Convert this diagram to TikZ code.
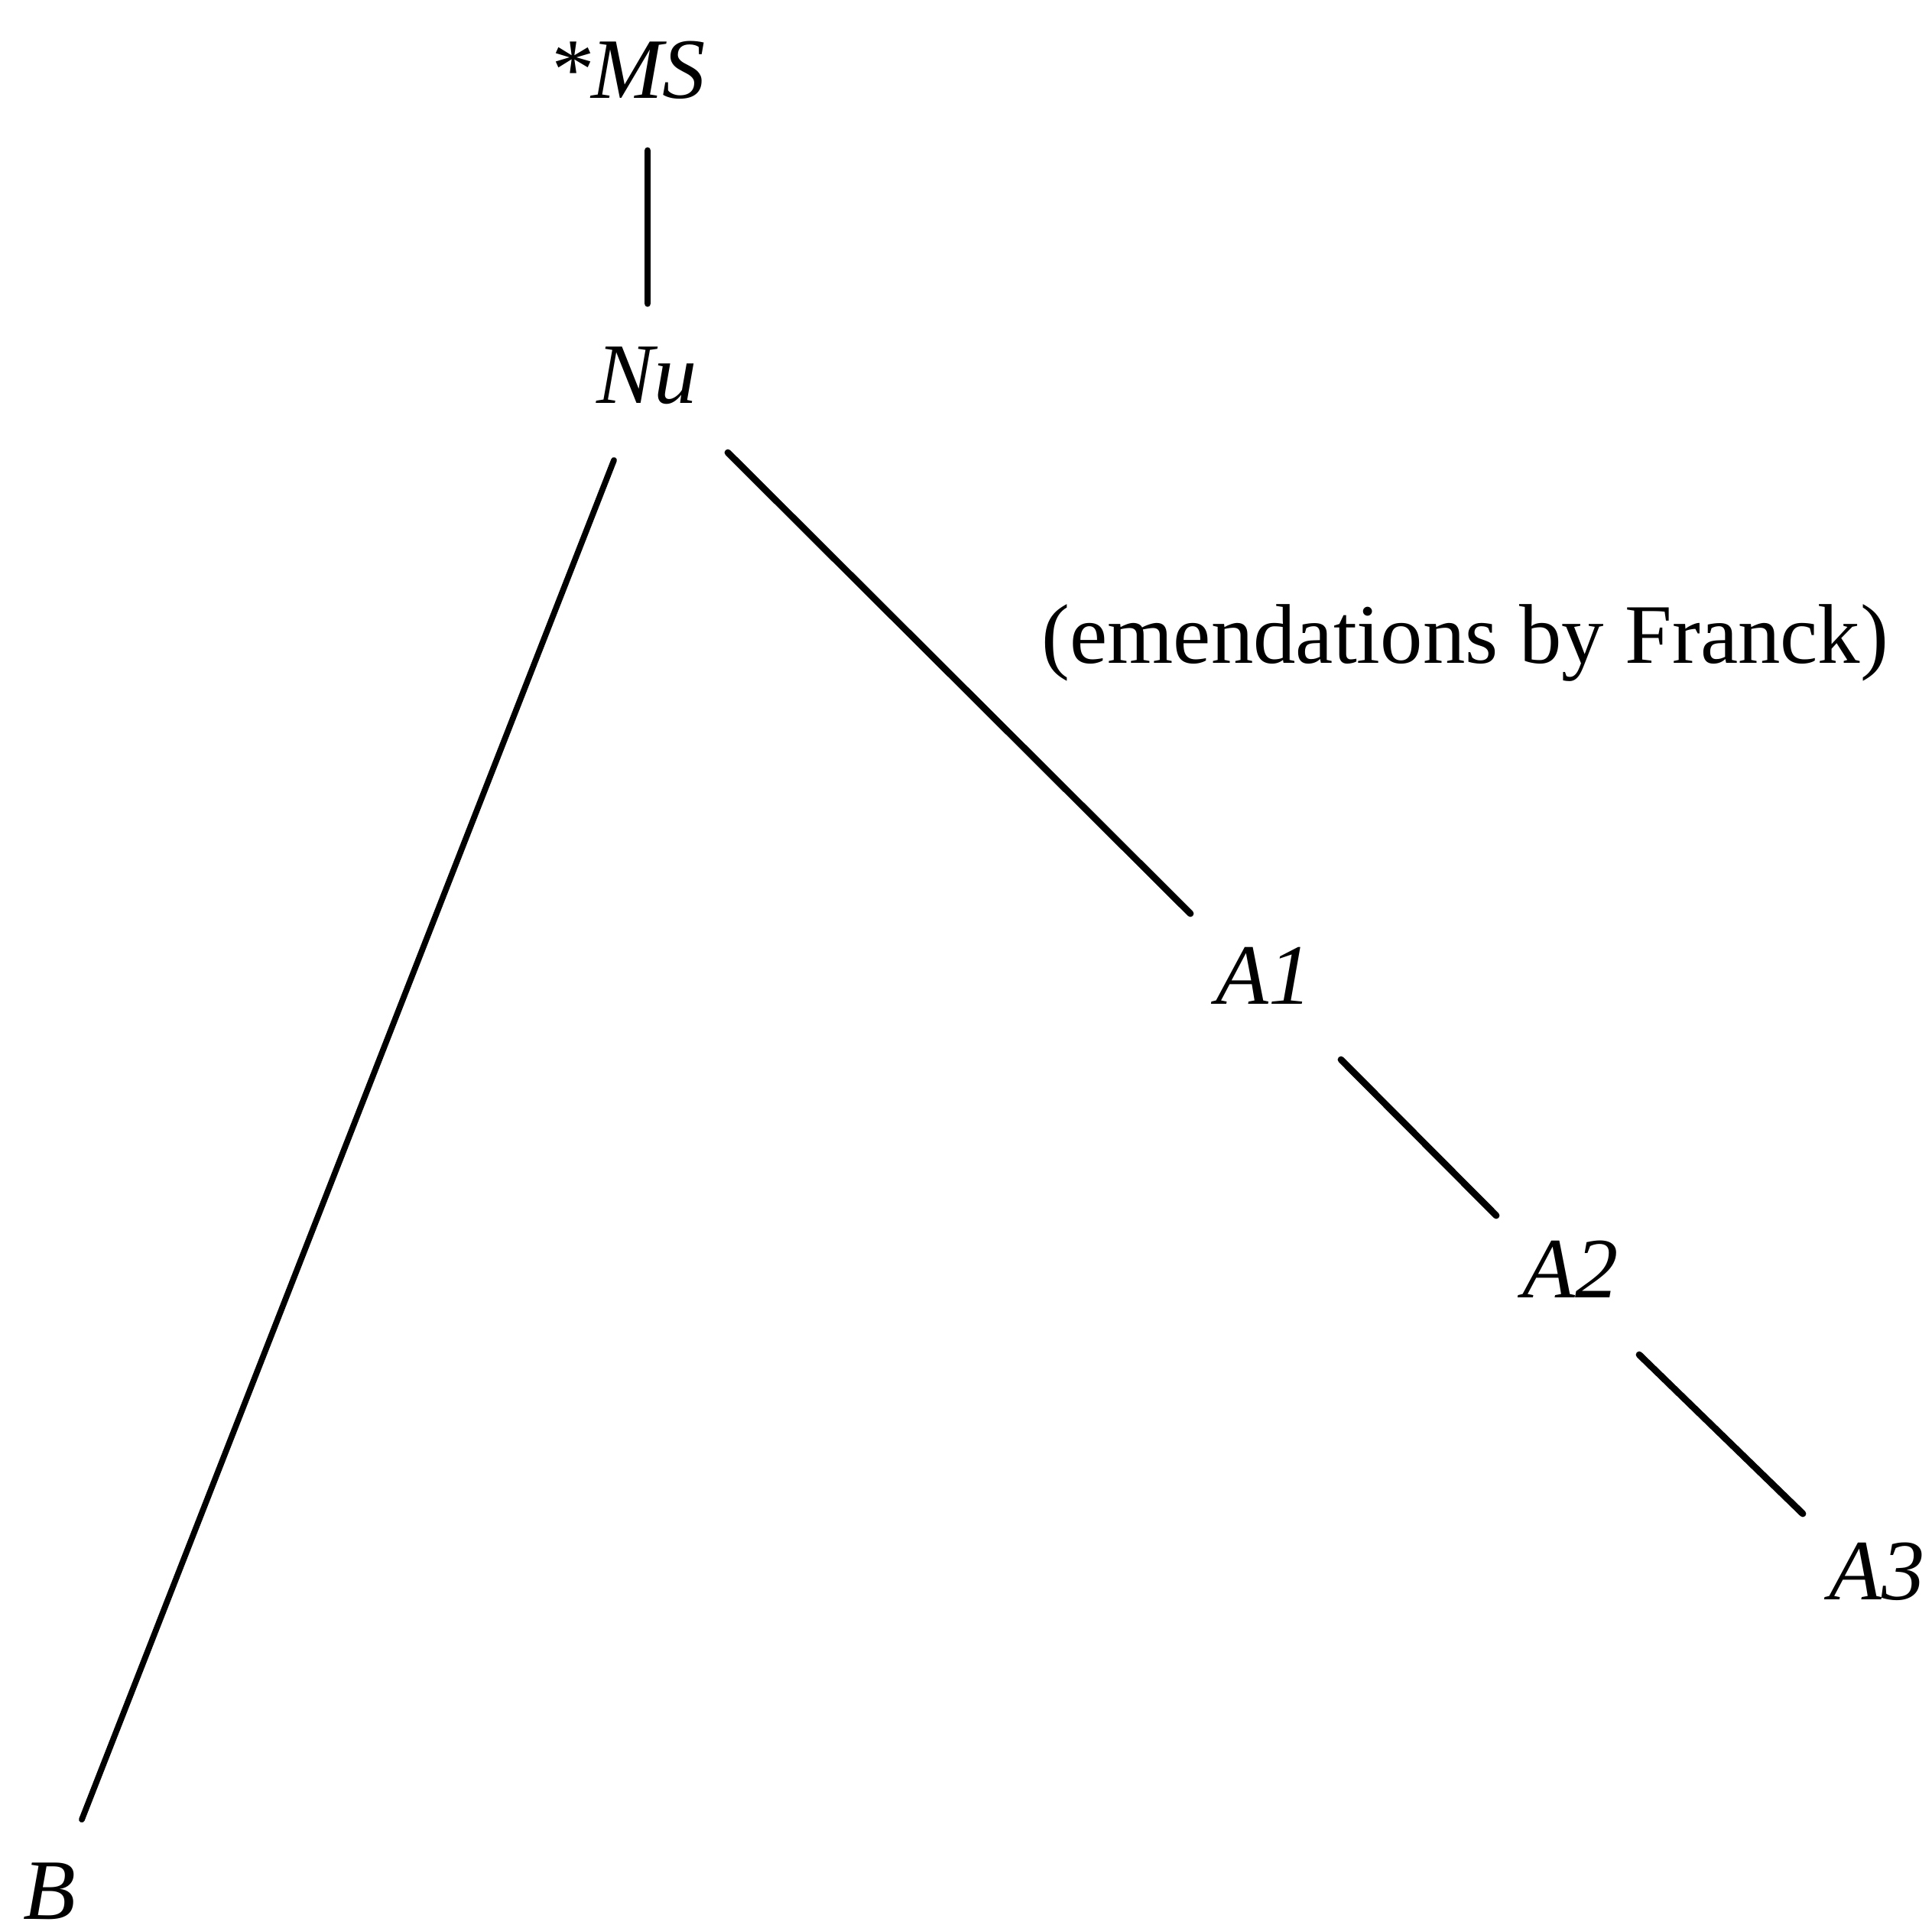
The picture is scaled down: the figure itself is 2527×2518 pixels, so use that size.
\documentclass[tikz,border=0pt]{standalone}
\usepackage{fontspec}
\setmainfont{Liberation Serif}
\usetikzlibrary{calc}
\begin{document}
\begin{tikzpicture}[x=0.01cm,y=-0.01cm,
  lbl/.style={inner sep=0pt,anchor=base,font=\fontsize{32}{38}\selectfont\itshape},
  note/.style={inner sep=0pt,anchor=base west,font=\fontsize{31.5}{38}\selectfont},
  edge/.style={line width=2.5pt,line cap=round,black}]
\useasboundingbox (0,0) rectangle (2527,2518);
\node[lbl] (MS) at (820,128) {*MS};
\node[lbl] (Nu) at (846,527) {Nu};
\node[lbl] (B) at (65,2510) {B};
\node[lbl] (A1) at (1653,1313) {A1};
\node[lbl] (A2) at (2054,1697) {A2};
\node[lbl] (A3) at (2455,2092) {A3};
\node[note] (em) at (1362,867) {(emendations by Franck)};
\draw[edge] ($(MS.base)+(27,69)$) -- ($(Nu.base)+(1,-130)$);
\draw[edge,line width=2.2pt] ($(Nu.base)+(-43,75)$) -- ($(B.base)+(42,-130)$);
\draw[edge] ($(Nu.base)+(106,65)$) -- ($(A1.base)+(-96,-118)$);
\draw[edge] ($(A1.base)+(101,73)$) -- ($(A2.base)+(-97,-107)$);
\draw[edge] ($(A2.base)+(90,75)$) -- ($(A3.base)+(-97,-112)$);
\end{tikzpicture}
\end{document}
